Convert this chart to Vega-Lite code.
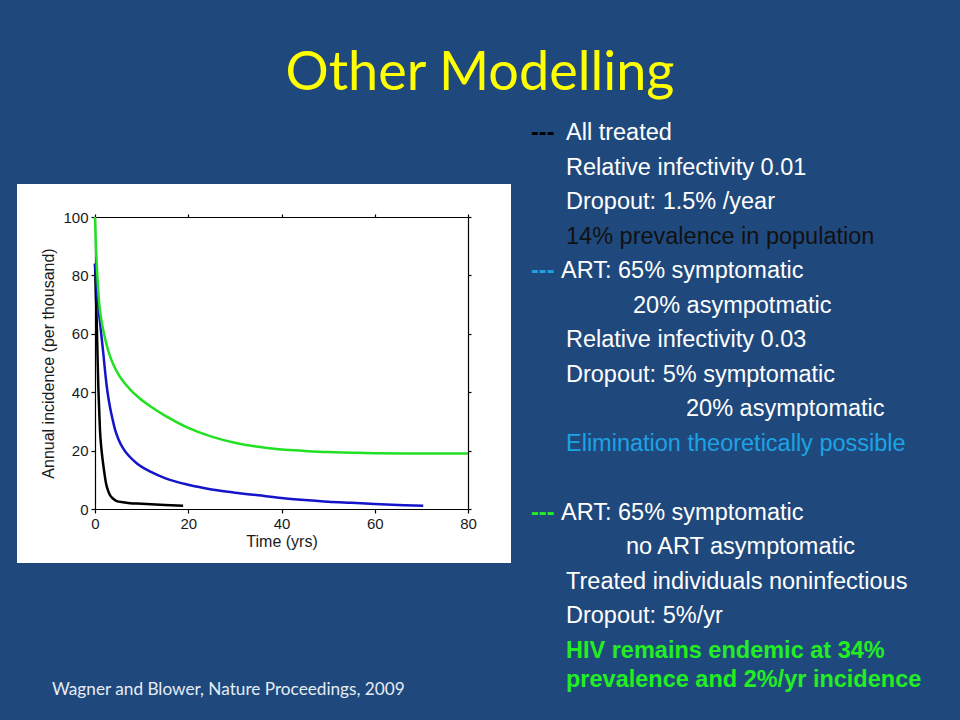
{
  "$schema": "https://vega.github.io/schema/vega-lite/v6.json",
  "autosize": {"type": "none"},
  "padding": {"left": 17, "top": 184, "right": 449, "bottom": 157},
  "width": 494,
  "height": 379,
  "background": "#1f497d",
  "title": {
    "text": "Other Modelling",
    "font": "Lato",
    "fontSize": 54,
    "fontWeight": "normal",
    "color": "#ffff00",
    "anchor": "middle",
    "frame": "group",
    "baseline": "alphabetic",
    "dx": 216,
    "offset": -23
  },
  "datasets": {
    "curves": [
      {"scenario": "All treated", "t": 0, "v": 84},
      {"scenario": "All treated", "t": 0.15, "v": 75},
      {"scenario": "All treated", "t": 0.36, "v": 64.8},
      {"scenario": "All treated", "t": 0.55, "v": 52},
      {"scenario": "All treated", "t": 0.71, "v": 42},
      {"scenario": "All treated", "t": 0.9, "v": 34},
      {"scenario": "All treated", "t": 1.07, "v": 27},
      {"scenario": "All treated", "t": 1.35, "v": 21},
      {"scenario": "All treated", "t": 1.64, "v": 16.8},
      {"scenario": "All treated", "t": 2, "v": 12.5},
      {"scenario": "All treated", "t": 2.36, "v": 8.8},
      {"scenario": "All treated", "t": 2.8, "v": 6.3},
      {"scenario": "All treated", "t": 3.2, "v": 4.8},
      {"scenario": "All treated", "t": 3.9, "v": 3.5},
      {"scenario": "All treated", "t": 4.65, "v": 2.7},
      {"scenario": "All treated", "t": 6, "v": 2.3},
      {"scenario": "All treated", "t": 7.5, "v": 2.0},
      {"scenario": "All treated", "t": 10, "v": 1.8},
      {"scenario": "All treated", "t": 12, "v": 1.6},
      {"scenario": "All treated", "t": 15, "v": 1.35},
      {"scenario": "All treated", "t": 18.9, "v": 1.1},
      {"scenario": "ART 65% symptomatic, 20% asymptomatic", "t": 0, "v": 84},
      {"scenario": "ART 65% symptomatic, 20% asymptomatic", "t": 0.3, "v": 77},
      {"scenario": "ART 65% symptomatic, 20% asymptomatic", "t": 0.6, "v": 71},
      {"scenario": "ART 65% symptomatic, 20% asymptomatic", "t": 1, "v": 65},
      {"scenario": "ART 65% symptomatic, 20% asymptomatic", "t": 1.4, "v": 59},
      {"scenario": "ART 65% symptomatic, 20% asymptomatic", "t": 1.8, "v": 53},
      {"scenario": "ART 65% symptomatic, 20% asymptomatic", "t": 2.2, "v": 46.5},
      {"scenario": "ART 65% symptomatic, 20% asymptomatic", "t": 2.6, "v": 41},
      {"scenario": "ART 65% symptomatic, 20% asymptomatic", "t": 3.2, "v": 35},
      {"scenario": "ART 65% symptomatic, 20% asymptomatic", "t": 3.8, "v": 30.5},
      {"scenario": "ART 65% symptomatic, 20% asymptomatic", "t": 4.3, "v": 27.2},
      {"scenario": "ART 65% symptomatic, 20% asymptomatic", "t": 5, "v": 24},
      {"scenario": "ART 65% symptomatic, 20% asymptomatic", "t": 6.1, "v": 20.6},
      {"scenario": "ART 65% symptomatic, 20% asymptomatic", "t": 7.5, "v": 17.8},
      {"scenario": "ART 65% symptomatic, 20% asymptomatic", "t": 9, "v": 15.6},
      {"scenario": "ART 65% symptomatic, 20% asymptomatic", "t": 12, "v": 12.7},
      {"scenario": "ART 65% symptomatic, 20% asymptomatic", "t": 15, "v": 10.6},
      {"scenario": "ART 65% symptomatic, 20% asymptomatic", "t": 20, "v": 8.3},
      {"scenario": "ART 65% symptomatic, 20% asymptomatic", "t": 25, "v": 6.7},
      {"scenario": "ART 65% symptomatic, 20% asymptomatic", "t": 30, "v": 5.6},
      {"scenario": "ART 65% symptomatic, 20% asymptomatic", "t": 35, "v": 4.7},
      {"scenario": "ART 65% symptomatic, 20% asymptomatic", "t": 40, "v": 3.8},
      {"scenario": "ART 65% symptomatic, 20% asymptomatic", "t": 45, "v": 3.1},
      {"scenario": "ART 65% symptomatic, 20% asymptomatic", "t": 50, "v": 2.5},
      {"scenario": "ART 65% symptomatic, 20% asymptomatic", "t": 55, "v": 2.1},
      {"scenario": "ART 65% symptomatic, 20% asymptomatic", "t": 60, "v": 1.7},
      {"scenario": "ART 65% symptomatic, 20% asymptomatic", "t": 65, "v": 1.4},
      {"scenario": "ART 65% symptomatic, 20% asymptomatic", "t": 70.4, "v": 1.1},
      {"scenario": "ART 65% symptomatic, no ART asymptomatic", "t": 0, "v": 100},
      {"scenario": "ART 65% symptomatic, no ART asymptomatic", "t": 0.2, "v": 90},
      {"scenario": "ART 65% symptomatic, no ART asymptomatic", "t": 0.5, "v": 80},
      {"scenario": "ART 65% symptomatic, no ART asymptomatic", "t": 1, "v": 69},
      {"scenario": "ART 65% symptomatic, no ART asymptomatic", "t": 1.5, "v": 63.5},
      {"scenario": "ART 65% symptomatic, no ART asymptomatic", "t": 2, "v": 59.5},
      {"scenario": "ART 65% symptomatic, no ART asymptomatic", "t": 2.5, "v": 56.2},
      {"scenario": "ART 65% symptomatic, no ART asymptomatic", "t": 3, "v": 53.4},
      {"scenario": "ART 65% symptomatic, no ART asymptomatic", "t": 4, "v": 49.2},
      {"scenario": "ART 65% symptomatic, no ART asymptomatic", "t": 5, "v": 46.2},
      {"scenario": "ART 65% symptomatic, no ART asymptomatic", "t": 6, "v": 43.8},
      {"scenario": "ART 65% symptomatic, no ART asymptomatic", "t": 7.5, "v": 41},
      {"scenario": "ART 65% symptomatic, no ART asymptomatic", "t": 9.5, "v": 38},
      {"scenario": "ART 65% symptomatic, no ART asymptomatic", "t": 12, "v": 35},
      {"scenario": "ART 65% symptomatic, no ART asymptomatic", "t": 15, "v": 32},
      {"scenario": "ART 65% symptomatic, no ART asymptomatic", "t": 20, "v": 27.8},
      {"scenario": "ART 65% symptomatic, no ART asymptomatic", "t": 25, "v": 24.8},
      {"scenario": "ART 65% symptomatic, no ART asymptomatic", "t": 30, "v": 22.7},
      {"scenario": "ART 65% symptomatic, no ART asymptomatic", "t": 35, "v": 21.3},
      {"scenario": "ART 65% symptomatic, no ART asymptomatic", "t": 40, "v": 20.4},
      {"scenario": "ART 65% symptomatic, no ART asymptomatic", "t": 45, "v": 19.9},
      {"scenario": "ART 65% symptomatic, no ART asymptomatic", "t": 50, "v": 19.5},
      {"scenario": "ART 65% symptomatic, no ART asymptomatic", "t": 55, "v": 19.3},
      {"scenario": "ART 65% symptomatic, no ART asymptomatic", "t": 60, "v": 19.1},
      {"scenario": "ART 65% symptomatic, no ART asymptomatic", "t": 70, "v": 19.0},
      {"scenario": "ART 65% symptomatic, no ART asymptomatic", "t": 80, "v": 19.0}
    ],
    "notes": [
      {"line": 0, "indent": 0, "text": "---", "group": "marker-all"},
      {"line": 0, "indent": 35, "text": "All treated", "group": "detail"},
      {"line": 1, "indent": 35, "text": "Relative infectivity 0.01", "group": "detail"},
      {"line": 2, "indent": 35, "text": "Dropout: 1.5% /year", "group": "detail"},
      {"line": 3, "indent": 35, "text": "14% prevalence in population", "group": "aside"},
      {"line": 4, "indent": 0, "text": "---", "group": "marker-art20"},
      {"line": 4, "indent": 30, "text": "ART: 65% symptomatic", "group": "detail"},
      {"line": 5, "indent": 102, "text": "20% asympotmatic", "group": "detail"},
      {"line": 6, "indent": 35, "text": "Relative infectivity 0.03", "group": "detail"},
      {"line": 7, "indent": 35, "text": "Dropout: 5% symptomatic", "group": "detail"},
      {"line": 8, "indent": 155, "text": "20% asymptomatic", "group": "detail"},
      {"line": 9, "indent": 35, "text": "Elimination theoretically possible", "group": "finding-art20"},
      {"line": 11, "indent": 0, "text": "---", "group": "marker-artnone"},
      {"line": 11, "indent": 30, "text": "ART: 65% symptomatic", "group": "detail"},
      {"line": 12, "indent": 95, "text": "no ART asymptomatic", "group": "detail"},
      {"line": 13, "indent": 35, "text": "Treated individuals noninfectious", "group": "detail"},
      {"line": 14, "indent": 35, "text": "Dropout: 5%/yr", "group": "detail"},
      {"line": 15, "indent": 35, "text": ["HIV remains endemic at 34%", "prevalence and 2%/yr incidence"], "group": "finding-artnone"},
      {"line": 16.08, "indent": -479, "text": "Wagner and Blower, Nature Proceedings, 2009", "group": "source"}
    ]
  },
  "layer": [
    {
      "data": {"name": "curves"},
      "layer": [
        {
          "mark": {"type": "line", "strokeWidth": 2.5, "clip": false, "interpolate": "monotone"},
          "encoding": {
            "x": {
              "field": "t", "type": "quantitative",
              "scale": {"domain": [0, 80], "range": [78, 451], "nice": false, "zero": false},
              "axis": {
                "orient": "bottom", "offset": -54, "values": [0, 20, 40, 60, 80],
                "title": "Time (yrs)", "labelFlush": false, "tickSize": 4, "labelPadding": 3,
                "titlePadding": 2
              }
            },
            "y": {
              "field": "v", "type": "quantitative",
              "scale": {"domain": [0, 100], "range": [325, 33], "nice": false, "zero": false},
              "axis": {
                "orient": "left", "offset": -78, "values": [0, 20, 40, 60, 80, 100],
                "title": "Annual incidence (per thousand)", "tickSize": 4, "labelPadding": 3,
                "titlePadding": 6
              }
            },
            "color": {
              "field": "scenario", "type": "nominal",
              "scale": {
                "domain": ["All treated", "ART 65% symptomatic, 20% asymptomatic", "ART 65% symptomatic, no ART asymptomatic"],
                "range": ["#000000", "#1414c8", "#22e022"]
              },
              "legend": null
            }
          }
        },
        {
          "mark": {"type": "line", "strokeOpacity": 0},
          "encoding": {
            "x": {
              "field": "t", "type": "quantitative",
              "scale": {"domain": [0, 80], "range": [78, 451], "nice": false, "zero": false},
              "axis": {"orient": "top", "offset": -33, "values": [0, 20, 40, 60, 80], "labels": false, "title": null, "tickSize": 3}
            },
            "y": {
              "field": "v", "type": "quantitative",
              "scale": {"domain": [0, 100], "range": [325, 33], "nice": false, "zero": false},
              "axis": {"orient": "right", "offset": -43, "values": [0, 20, 40, 60, 80, 100], "labels": false, "title": null, "tickSize": 3}
            }
          }
        }
      ],
      "resolve": {"axis": {"x": "independent", "y": "independent"}}
    },
    {
      "data": {"name": "notes"},
      "transform": [{"filter": "indexof(['detail', 'aside', 'finding-art20'], datum.group) >= 0"}],
      "mark": {"type": "text", "align": "left", "baseline": "alphabetic", "font": "Liberation Sans", "fontSize": 23.5},
      "encoding": {
        "x": {"field": "indent", "type": "quantitative", "scale": {"domain": [0, 100], "range": [514, 614], "nice": false, "zero": false}, "axis": null},
        "y": {"field": "line", "type": "quantitative", "scale": {"domain": [0, 14], "range": [-44, 439.3], "nice": false, "zero": false}, "axis": null},
        "text": {"field": "text", "type": "nominal"},
        "color": {
          "field": "group", "type": "nominal",
          "scale": {
            "domain": ["detail", "aside", "finding-art20"],
            "range": ["#ffffff", "#111111", "#1da3e3"]
          },
          "legend": null
        }
      }
    },
    {
      "data": {"name": "notes"},
      "transform": [{"filter": "indexof(['marker-all', 'marker-art20', 'marker-artnone', 'finding-artnone'], datum.group) >= 0"}],
      "mark": {"type": "text", "align": "left", "baseline": "alphabetic", "font": "Liberation Sans", "fontSize": 23.5, "fontWeight": "bold", "lineHeight": 29.3},
      "encoding": {
        "x": {"field": "indent", "type": "quantitative", "scale": {"domain": [0, 100], "range": [514, 614], "nice": false, "zero": false}, "axis": null},
        "y": {"field": "line", "type": "quantitative", "scale": {"domain": [0, 14], "range": [-44, 439.3], "nice": false, "zero": false}, "axis": null},
        "text": {"field": "text", "type": "nominal"},
        "color": {
          "field": "group", "type": "nominal",
          "scale": {
            "domain": ["marker-all", "marker-art20", "marker-artnone", "finding-artnone"],
            "range": ["#000000", "#1da3e3", "#22ee22", "#22ee22"]
          },
          "legend": null
        }
      }
    },
    {
      "data": {"name": "notes"},
      "transform": [{"filter": "datum.group === 'source'"}],
      "mark": {"type": "text", "align": "left", "baseline": "alphabetic", "font": "Lato", "fontSize": 17.2, "color": "#e6ecf5"},
      "encoding": {
        "x": {"field": "indent", "type": "quantitative", "scale": {"domain": [0, 100], "range": [514, 614], "nice": false, "zero": false}, "axis": null},
        "y": {"field": "line", "type": "quantitative", "scale": {"domain": [0, 14], "range": [-44, 439.3], "nice": false, "zero": false}, "axis": null},
        "text": {"field": "text", "type": "nominal"}
      }
    }
  ],
  "resolve": {"scale": {"x": "independent", "y": "independent", "color": "independent"}},
  "config": {
    "view": {"stroke": null, "fill": "#ffffff"},
    "axis": {
      "grid": false,
      "domainColor": "#000000",
      "domainWidth": 1.2,
      "tickColor": "#000000",
      "tickWidth": 1.2,
      "labelFont": "Liberation Sans",
      "labelFontSize": 15,
      "labelColor": "#1a1a1a",
      "titleFont": "Liberation Sans",
      "titleFontSize": 16,
      "titleFontWeight": "normal",
      "titleColor": "#1a1a1a"
    }
  }
}
